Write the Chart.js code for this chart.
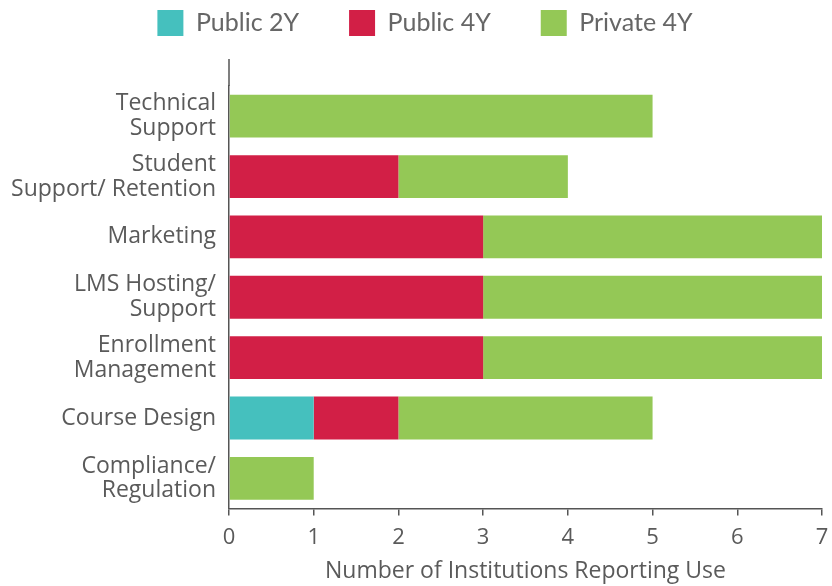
<!DOCTYPE html>
<html>
<head>
<meta charset="utf-8">
<script src="https://cdn.jsdelivr.net/npm/chart.js@4/dist/chart.umd.min.js"></script>
<style>
  html, body { margin: 0; padding: 0; background: #fff; }
  #wrap { width: 832px; height: 586px; }
</style>
</head>
<body>
<div id="wrap"><canvas id="grafico"></canvas></div>
<script>
// categorie dall'alto verso il basso
const categorie = [
  ["Technical", "Support"],
  ["Student", "Support/ Retention"],
  "Marketing",
  ["LMS Hosting/", "Support"],
  ["Enrollment", "Management"],
  "Course Design",
  ["Compliance/", "Regulation"]
];
const public2Y = [0, 0, 0, 0, 0, 1, 0];
const public4Y = [0, 2, 3, 3, 3, 1, 0];
const private4Y = [5, 2, 4, 4, 4, 3, 1];
const tickValori = [0, 1, 2, 3, 4, 5, 6, 7];

const coloreTesto = "#5a5a5a";
const coloreAssi = "#555555";

// prolunga la linea dell'asse verticale sopra l'area del grafico
// e sposta la legenda verso l'alto
const lineaAsse = {
  id: "lineaAsse",
  afterLayout(chart) {
    chart.legend.top -= 40;
    chart.legend.bottom -= 40;
    chart.legend.left += 14;
    chart.legend.right += 14;
  },
  afterDraw(chart) {
    const ctx = chart.ctx;
    const a = chart.chartArea;
    ctx.save();
    ctx.strokeStyle = coloreAssi;
    ctx.lineWidth = 1.5;
    ctx.beginPath();
    ctx.moveTo(a.left, a.top - 27);
    ctx.lineTo(a.left, a.top);
    ctx.stroke();
    ctx.restore();
  }
};

const ctx = document.getElementById("grafico").getContext("2d");
new Chart(ctx, {
  type: "bar",
  data: {
    labels: categorie,
    datasets: [
      { label: "Public 2Y", data: public2Y, backgroundColor: "#45c0be" },
      { label: "Public 4Y", data: public4Y, backgroundColor: "#d21f46" },
      { label: "Private 4Y", data: private4Y, backgroundColor: "#94c856" }
    ]
  },
  options: {
    indexAxis: "y",
    responsive: true,
    maintainAspectRatio: false,
    animation: false,
    categoryPercentage: 1,
    barPercentage: 0.71,
    layout: { padding: { left: 0, right: 10, top: 0, bottom: 3 } },
    plugins: {
      tooltip: { enabled: false },
      legend: {
        position: "top",
        labels: {
          boxWidth: 26,
          boxHeight: 26,
          padding: 50,
          color: "#666",
          font: { family: "Lato", size: 25 },
          generateLabels(chart) {
            return chart.data.datasets.map((ds, i) => ({
              text: ds.label,
              fillStyle: ds.backgroundColor,
              strokeStyle: ds.backgroundColor,
              lineWidth: 0,
              datasetIndex: i,
              fontColor: "#666"
            }));
          }
        }
      }
    },
    scales: {
      x: {
        stacked: true,
        min: 0,
        max: 7,
        afterBuildTicks(scale) {
          scale.ticks = tickValori.map((v) => ({ value: v }));
        },
        afterFit(scale) {
          scale.paddingRight = 0;
        },
        grid: {
          drawOnChartArea: false,
          drawTicks: true,
          tickLength: 7,
          color: coloreAssi,
          lineWidth: 1.5
        },
        border: { display: true, color: coloreAssi, width: 1.5 },
        ticks: {
          color: coloreTesto,
          font: { family: "Open Sans", size: 22 },
          padding: 9
        },
        title: {
          display: true,
          text: "Number of Institutions Reporting Use",
          color: coloreTesto,
          font: { family: "Open Sans", size: 23, lineHeight: 1 },
          padding: { top: 0, bottom: 0 }
        }
      },
      y: {
        stacked: true,
        afterFit(scale) {
          scale.width = 229;
        },
        grid: { display: false, drawTicks: false },
        border: { display: true, color: coloreAssi, width: 1.5 },
        ticks: {
          color: coloreTesto,
          font: { family: "Open Sans", size: 23, lineHeight: 1.08 },
          padding: 13
        }
      }
    }
  },
  plugins: [lineaAsse]
});
</script>
</body>
</html>
